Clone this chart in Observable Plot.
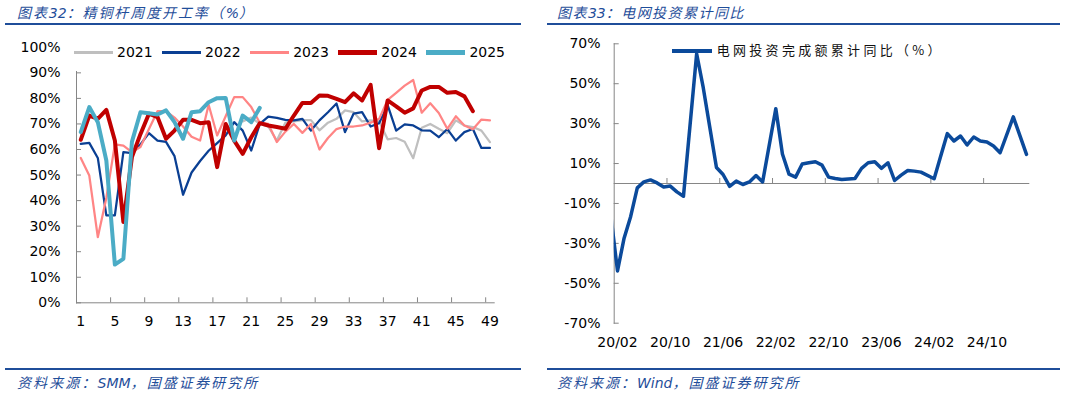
<!DOCTYPE html>
<html><head><meta charset="utf-8">
<script src="https://cdn.jsdelivr.net/npm/d3@7"></script>
<script src="https://cdn.jsdelivr.net/npm/@observablehq/plot@0.6"></script>
<style>
html,body{margin:0;padding:0;background:#fff;}
#root{position:relative;width:1065px;height:394px;overflow:hidden;font-family:"DejaVu Sans","Noto Sans CJK SC",sans-serif;}
.hdr{position:absolute;font-style:italic;color:#1f4e9a;font-size:14px;white-space:nowrap;line-height:16px;font-family:"DejaVu Sans","Noto Sans CJK SC",sans-serif;}
.bar{position:absolute;height:2px;background:#1f4e9a;}
svg{position:absolute;}
</style></head><body><div id="root"></div>
<script>
// ---------- Left chart data: 精铜杆周度开工率 (%) ----------
const weeks = d3.range(1, 50);
const years = ["2021", "2022", "2023", "2024", "2025"];
const yearColors = ["#bfbfbf", "#0a3f93", "#ff8585", "#c00000", "#4bacc6"];
const yearWidths = [2.25, 2.25, 2.25, 4, 4];
const s2021 = [null,null,null,null,null,null,null,null,null,null,null,null,null,null,null,null,null,null,null,
  71,72.5,70,69,63.5,70.5,71,71.5,71.5,67.5,70.5,72,75.3,74.6,71,71.4,71,64,64.5,63,56.6,68.5,70,68.1,66.4,71.4,69.4,68.8,67.4,62.9];
const s2022 = [62.2,62.6,56.7,34.2,34.2,59,58.6,62,66.4,63.5,63,57.4,42.3,51,55.5,59.5,62.5,65.5,70.7,67.4,59.6,70,72.9,72.4,71.6,71.4,72,67.4,71.4,74.6,78,66.8,74,74.6,69,70.3,77.4,67.4,69.8,69.4,67.5,67.4,64.8,68,63.5,66.8,68,60.6,60.6];
const s2023 = [56.7,49.8,25.7,41,62,61.5,59,61,68,75,75,72.5,69,65,63.5,77.5,65.5,73,80.5,80.5,76.6,70.5,70,62.9,67,70,66.5,70,60,64.5,68,69,69,69.4,70.5,72,79.4,82.2,85,87.2,74.4,78.1,74.3,68.1,73,69.4,67.9,71.7,71.4];
const s2024 = [63.8,73.3,72,75.5,63.5,31.6,57,66,74,72.7,64.2,67.4,71.6,71.6,70.3,70.7,53.1,70,63.5,58.3,64.8,70.3,69.4,68.8,68.1,73.3,78.2,78.2,81.1,81,79.8,78.5,82,79.2,85.3,60.5,79.2,76.9,74.4,76.1,83.1,84.5,84.5,82.2,82.5,80.8,75,null,null];
const s2025 = [66.8,76.6,70.7,55.7,15,17.2,63,74.6,74.2,73.7,75.3,70.7,64.2,74.6,75,78.5,80.1,80.2,63.5,73.3,70.7,76.3,
  null,null,null,null,null,null,null,null,null,null,null,null,null,null,null,null,null,null,null,null,null,null,null,null,null,null,null];
const xTicksL = [1,5,9,13,17,21,25,29,33,37,41,45,49];
const yTicksL = [0,10,20,30,40,50,60,70,80,90,100];

// ---------- Right chart data: 电网投资完成额累计同比 (%) ----------
const gridMonths = ["19/12","20/02","20/03","20/04","20/05","20/06","20/07","20/08","20/09","20/10","20/11","20/12",
  "21/02","21/03","21/04","21/05","21/06","21/07","21/08","21/09","21/10","21/11","21/12",
  "22/02","22/03","22/04","22/05","22/06","22/07","22/08","22/09","22/10","22/11","22/12",
  "23/02","23/03","23/04","23/05","23/06","23/07","23/08","23/09","23/10","23/11","23/12",
  "24/02","24/03","24/04","24/05","24/06","24/07","24/08","24/09","24/10","24/11","24/12",
  "25/02","25/03","25/04"];
const gridValues = [11.4,-43.8,-27.4,-16.5,-2.2,0.8,1.8,0.3,-1.8,-1.3,-4.2,-6.4,
  65,48,28,8,4.5,-1.4,1.2,-0.5,0.8,4,0.8,
  37.5,14.8,4.7,3.2,9.8,10.4,10.9,9.2,3.2,2.5,2.0,
  2.5,7.6,10.4,10.9,7.6,10.4,1.5,4.2,6.5,6.2,5.7,
  2.4,13.8,25,21.3,23.8,19.3,23.3,21.3,20.8,18.8,15.4,
  33.4,24,14.6];
const xLabelsR = ["20/02","20/10","21/06","22/02","22/10","23/06","24/02","24/10"];
const yTicksR = [-70,-50,-30,-10,10,30,50,70];
const axisMonths = ["20/02","25/04"];

const root = document.getElementById("root");
const axisGrey = "#868686";
const baseStyle = {fontFamily: "DejaVu Sans", fontSize: "14px", color: "#000", background: "transparent", overflow: "visible"};

// ---------- Left chart ----------
const seriesArrays = [s2021, s2022, s2023, s2024, s2025];
const rowsL = [];
years.forEach((yr, k) => weeks.forEach((w, i) => {
  const v = seriesArrays[k][i];
  if (v != null) rowsL.push({year: yr, week: w, value: v});
}));
const boundL = xTicksL.slice(1).map(w => w - 0.5);

const left = Plot.plot({
  width: 530, height: 320,
  marginLeft: 76, marginRight: 36.3, marginTop: 16.8, marginBottom: 47.7,
  style: baseStyle,
  x: {domain: [weeks[0] - 0.5, weeks[weeks.length - 1] + 0.5], label: null},
  y: {domain: [0, 100], label: null},
  marks: [
    Plot.axisY(yTicksL, {tickSize: -5, tickPadding: 21, tickFormat: d => d + "%", stroke: axisGrey, label: null}),
    Plot.axisX(xTicksL, {tickSize: 0, tickPadding: 13, label: null}),
    Plot.frame({anchor: "left", stroke: axisGrey}),
    Plot.frame({anchor: "bottom", stroke: axisGrey}),
    Plot.ruleX(boundL, {x: d => d, y1: () => 0, y2: () => 0, insetTop: -5, stroke: axisGrey}),
    ...years.map((yr, k) => Plot.line(rowsL.filter(r => r.year === yr), {
      x: "week", y: "value", stroke: yearColors[k], strokeWidth: yearWidths[k],
      strokeLinejoin: "round", strokeLinecap: "round"
    }))
  ]
});
left.style.left = "0px"; left.style.top = "30px";
root.appendChild(left);

// left legend
const lg = document.createElement("div");
lg.style.cssText = "position:absolute;left:72px;top:40px;width:445px;height:31px;background:#fff;";
years.forEach((yr, k) => {
  const x0 = 2 + k * 88.1;
  const h = k >= 3 ? 5 : 3;
  const ln = document.createElement("div");
  ln.style.cssText = `position:absolute;left:${x0}px;top:${12.7 - h / 2}px;width:39px;height:${h}px;background:${yearColors[k]};`;
  const tx = document.createElement("div");
  tx.style.cssText = `position:absolute;left:${x0 + 43}px;top:4px;line-height:16px;font-size:14px;color:#000;font-family:'DejaVu Sans';`;
  tx.textContent = yr;
  lg.appendChild(ln); lg.appendChild(tx);
});
root.appendChild(lg);

// ---------- Right chart ----------
const monthIndex = s => { const [yy, mm] = s.split("/").map(Number); return (yy - 20) * 12 + (mm - 2); };
const rowsR = gridMonths.map((m, i) => ({idx: monthIndex(m), value: gridValues[i]}));
const tickIdxR = xLabelsR.map(monthIndex);
const boundR = tickIdxR.slice(1).map(i => i - 0.5);
const labelByIdx = new Map(xLabelsR.map(s => [monthIndex(s), s]));

const right = Plot.plot({
  width: 525, height: 320,
  marginLeft: 73.7, marginRight: 35.7, marginTop: 13.3, marginBottom: 27.3,
  style: baseStyle,
  x: {domain: [monthIndex(axisMonths[0]) - 0.5, monthIndex(axisMonths[1]) + 0.5], label: null},
  y: {domain: [yTicksR[0], yTicksR[yTicksR.length - 1]], label: null},
  marks: [
    Plot.axisY(yTicksR, {tickSize: -5, tickPadding: 18.7, tickFormat: d => d + "%", stroke: axisGrey, label: null}),
    Plot.axisX(tickIdxR, {tickSize: 0, tickPadding: 14, tickFormat: i => labelByIdx.get(i), label: null}),
    Plot.frame({anchor: "left", stroke: axisGrey}),
    Plot.ruleY([0], {stroke: axisGrey}),
    Plot.ruleX(boundR, {x: d => d, y1: () => 0, y2: () => 0, insetTop: -5, stroke: axisGrey}),
    Plot.line(rowsR, {x: "idx", y: "value", stroke: "#0b4a9b", strokeWidth: 3.5, clip: true,
      strokeLinejoin: "round", strokeLinecap: "round"})
  ]
});
right.style.left = "540px"; right.style.top = "30px";
root.appendChild(right);

// right legend
const rl = document.createElement("div");
rl.style.cssText = "position:absolute;left:672px;top:49px;width:40px;height:3.5px;background:#0b4a9b;";
root.appendChild(rl);
const rt = document.createElement("div");
rt.style.cssText = "position:absolute;left:716.7px;top:41px;line-height:18px;font-size:13px;letter-spacing:3.3px;color:#111;font-family:'Noto Sans CJK SC','DejaVu Sans';white-space:nowrap;";
rt.textContent = "电网投资完成额累计同比（%）";
root.appendChild(rt);

// ---------- headers & footers ----------
function hdr(text, x, y, ls) {
  const d = document.createElement("div");
  d.className = "hdr";
  d.style.left = x + "px"; d.style.top = y + "px";
  text.split(/([A-Za-z0-9%]+)/).filter(s => s).forEach(part => {
    const sp = document.createElement("span");
    sp.textContent = part;
    sp.style.letterSpacing = /^[A-Za-z0-9%]+$/.test(part) ? "0px" : ls + "px";
    d.appendChild(sp);
  });
  root.appendChild(d);
}
function bar(x1, x2, y) {
  const d = document.createElement("div");
  d.className = "bar";
  d.style.left = x1 + "px"; d.style.width = (x2 - x1) + "px"; d.style.top = y + "px";
  root.appendChild(d);
}
hdr("图表32：精铜杆周度开工率（%）", 17, 5, 1.9);
hdr("图表33：电网投资累计同比", 557, 5, 1.45);
bar(5, 521, 23); bar(547, 1060, 23);
bar(5, 521, 367.5); bar(547, 1060, 367.5);
hdr("资料来源：SMM，国盛证券研究所", 17, 375, 2.1);
hdr("资料来源：Wind，国盛证券研究所", 557, 375, 2);
</script>
</body></html>
